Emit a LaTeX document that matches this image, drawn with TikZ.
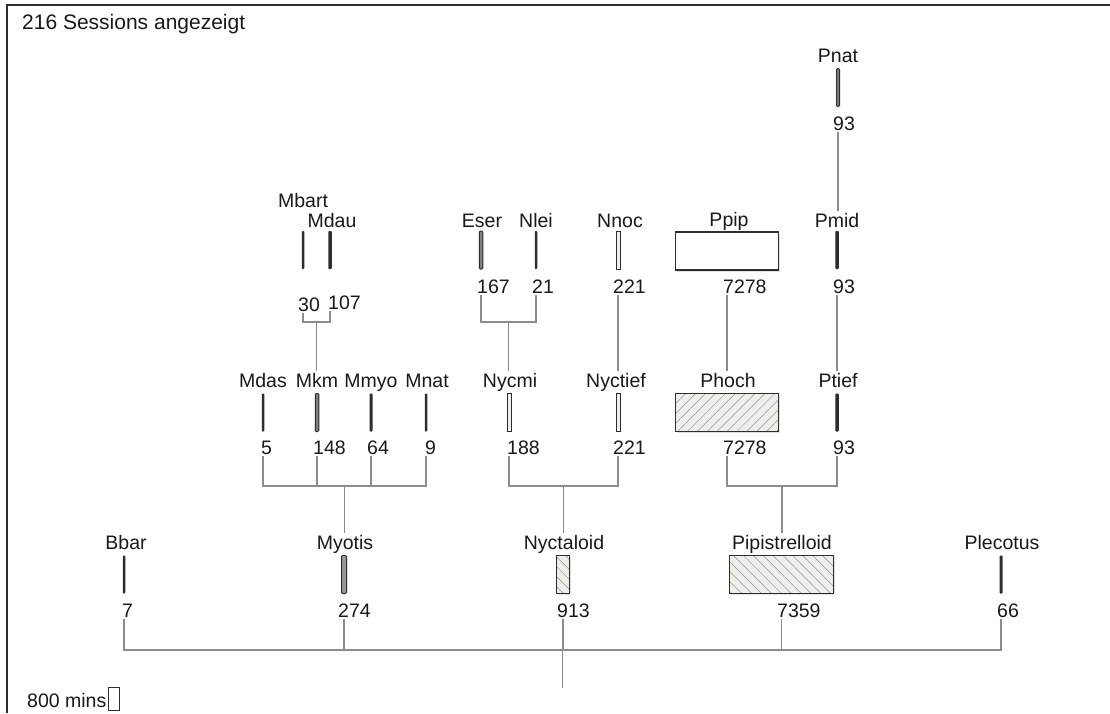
\documentclass[tikz,border=0pt]{standalone}
\usepackage{fontspec}
\setmainfont{Liberation Sans}
\usetikzlibrary{patterns.meta,shadows}
\definecolor{wirecol}{RGB}{140,140,140}
\definecolor{dark}{RGB}{45,45,45}
\definecolor{hatchbg}{RGB}{236,239,234}
\newcommand\labfont{\fontsize{19.5}{22}\selectfont}
\newcommand\headfont{\fontsize{21}{24}\selectfont}
\begin{document}
\begin{tikzpicture}[x=1pt,y=-1pt,
  lbl/.style={font=\labfont, anchor=base, inner sep=2pt, text=black!90},
  num/.style={font=\labfont, anchor=base west, inner xsep=0pt, inner ysep=2pt, text=black!90},
  bar/.style={rectangle, inner sep=0pt, minimum height=38pt},
  thinbar/.style={bar, fill=dark, minimum width=2.5pt, rounded corners=0.8pt},
  filledbar/.style={bar, fill=black!50, draw=dark, line width=1pt, minimum width=#1, rounded corners=1pt},
  hollowbar/.style={bar, fill=gray!12, draw=dark, line width=1pt, minimum width=#1},
  softshadow/.style={drop shadow={shadow xshift=1pt, shadow yshift=-1.5pt, opacity=0.22}},
  wbox/.style={bar, fill=white, draw=dark, line width=1.4pt, minimum width=#1, softshadow},
  hatchne/.style={bar, draw=dark, line width=1.4pt, minimum width=#1, softshadow,
    preaction={fill=hatchbg}, pattern={Lines[angle=45,distance=7pt,line width=0.5pt]}, pattern color=gray!85},
  hatchnw/.style={bar, draw=dark, line width=1.4pt, minimum width=#1, softshadow,
    preaction={fill=hatchbg}, pattern={Lines[angle=-45,distance=7pt,line width=0.5pt]}, pattern color=gray!85},
  wire/.style={draw=wirecol, line width=1.3pt}
]
\useasboundingbox (0,0) rectangle (1110,713);
\fill[white] (0,0) rectangle (1110,713);
\draw[dark, line width=1.5pt] (1110,5) -- (7,5) -- (7,713);

\node[font=\headfont, anchor=base west, inner sep=0pt, text=black!90] (head) at (22,29) {216 Sessions angezeigt};

% ---------- Row A
\node[lbl] (pnatL) at (838,62) {Pnat};
\node[filledbar=3pt] (pnatB) at (838,87.5) {};
\node[num] (pnatN) at (833,130) {93};

% ---------- Row B
\node[lbl] (mbartL) at (303,207) {Mbart};
\node[thinbar] (mbartB) at (303,250) {};
\node[num] (mbartN) at (298,311) {30};
\node[lbl] (mdauL) at (332,227) {Mdau};
\node[thinbar, minimum width=3.5pt] (mdauB) at (330,250) {};
\node[num] (mdauN) at (328,309) {107};
\node[lbl] (eserL) at (482,227) {Eser};
\node[filledbar=3.5pt] (eserB) at (481,250) {};
\node[num] (eserN) at (477,293) {167};
\node[lbl] (nleiL) at (536,227) {Nlei};
\node[thinbar] (nleiB) at (536,250) {};
\node[num] (nleiN) at (532,293) {21};
\node[lbl] (nnocL) at (620,227) {Nnoc};
\node[hollowbar=4pt] (nnocB) at (618,250) {};
\node[num] (nnocN) at (613,293) {221};
\node[lbl] (ppipL) at (729,226) {Ppip};
\node[wbox=103pt] (ppipB) at (727,251) {};
\node[num] (ppipN) at (723,293) {7278};
\node[lbl] (pmidL) at (837,227) {Pmid};
\node[thinbar, minimum width=3.5pt] (pmidB) at (837,250) {};
\node[num] (pmidN) at (833,293) {93};

% ---------- Row C
\node[lbl] (mdasL) at (263,387) {Mdas};
\node[thinbar] (mdasB) at (263,412.5) {};
\node[num] (mdasN) at (261,454) {5};
\node[lbl] (mkmL) at (317,387) {Mkm};
\node[filledbar=3.5pt] (mkmB) at (317,412.5) {};
\node[num] (mkmN) at (313,454) {148};
\node[lbl] (mmyoL) at (371,387) {Mmyo};
\node[thinbar, minimum width=3pt] (mmyoB) at (371,412.5) {};
\node[num] (mmyoN) at (367,454) {64};
\node[lbl] (mnatL) at (427,387) {Mnat};
\node[thinbar] (mnatB) at (426,412.5) {};
\node[num] (mnatN) at (425,454) {9};
\node[lbl] (nycmiL) at (510,387) {Nycmi};
\node[hollowbar=4pt] (nycmiB) at (509,412.5) {};
\node[num] (nycmiN) at (507,454) {188};
\node[lbl] (nyctiefL) at (616,387) {Nyctief};
\node[hollowbar=4pt] (nyctiefB) at (618,412.5) {};
\node[num] (nyctiefN) at (613,454) {221};
\node[lbl] (phochL) at (728,387) {Phoch};
\node[hatchne=103pt] (phochB) at (727,412.5) {};
\node[num] (phochN) at (723,454) {7278};
\node[lbl] (ptiefL) at (838,387) {Ptief};
\node[thinbar, minimum width=3.5pt] (ptiefB) at (837,412.5) {};
\node[num] (ptiefN) at (833,454) {93};

% ---------- Bottom row
\node[lbl] (bbarL) at (126,549) {Bbar};
\node[thinbar] (bbarB) at (124,574.5) {};
\node[num] (bbarN) at (122,617) {7};
\node[lbl] (myotisL) at (345,549) {Myotis};
\node[filledbar=5pt, fill=black!40] (myotisB) at (344,574.5) {};
\node[num] (myotisN) at (338,617) {274};
\node[lbl] (nyctaloidL) at (564,549) {Nyctaloid};
\node[hatchnw=13pt] (nyctaloidB) at (563,574.5) {};
\node[num] (nyctaloidN) at (557,617) {913};
\node[lbl] (pipL) at (782,549) {Pipistrelloid};
\node[hatchnw=104pt] (pipB) at (781.5,574.5) {};
\node[num] (pipN) at (777,617) {7359};
\node[lbl] (plecL) at (1002,549) {Plecotus};
\node[thinbar, minimum width=3pt] (plecB) at (1001,574.5) {};
\node[num] (plecN) at (997,617) {66};

% ---------- connectors
\draw[wire] (pnatN.south -| pnatB.center) -- (pmidL.north -| pnatB.center);
\draw[wire] (pmidN.south -| pmidB.center) -- (ptiefL.north -| pmidB.center);
\draw[wire] (ppipN.south -| ppipB.center) -- (phochL.north -| ppipB.center);
\draw[wire] (nnocN.south -| nnocB.center) -- (nyctiefL.north -| nnocB.center);

\coordinate (j1) at (316.5,322);
\draw[wire] (mbartN.south -| mbartB.center) -- (mbartB.center |- j1) -- (mdauB.center |- j1) -- (mdauN.south -| mdauB.center);
\draw[wire] (j1) -- (mkmL.north -| j1);

\coordinate (j2) at (508.5,322);
\draw[wire] (eserN.south -| eserB.center) -- (eserB.center |- j2) -- (nleiB.center |- j2) -- (nleiN.south -| nleiB.center);
\draw[wire] (j2) -- (nycmiL.north -| j2);

\coordinate (j3) at (344.5,486);
\draw[wire] (mdasN.south -| mdasB.center) -- (mdasB.center |- j3) -- (mnatB.center |- j3) -- (mnatN.south -| mnatB.center);
\draw[wire] (mkmN.south -| mkmB.center) -- (mkmB.center |- j3);
\draw[wire] (mmyoN.south -| mmyoB.center) -- (mmyoB.center |- j3);
\draw[wire] (j3) -- (myotisL.north -| j3);

\coordinate (j4) at (563.5,486);
\draw[wire] (nycmiN.south -| nycmiB.center) -- (nycmiB.center |- j4) -- (nyctiefB.center |- j4) -- (nyctiefN.south -| nyctiefB.center);
\draw[wire] (j4) -- (nyctaloidL.north -| j4);

\coordinate (j5) at (782,486);
\draw[wire] (phochN.south -| phochB.center) -- (phochB.center |- j5) -- (ptiefB.center |- j5) -- (ptiefN.south -| ptiefB.center);
\draw[wire] (j5) -- (pipL.north -| j5);

\coordinate (j6) at (562.5,650);
\coordinate (rootend) at (562.5,688);
\draw[wire] (bbarN.south -| bbarB.center) -- (bbarB.center |- j6) -- (plecB.center |- j6) -- (plecN.south -| plecB.center);
\draw[wire] (myotisN.south -| myotisB.center) -- (myotisB.center |- j6);
\draw[wire] (nyctaloidN.south -| nyctaloidB.center) -- (nyctaloidB.center |- j6);
\draw[wire] (pipN.south -| pipB.center) -- (pipB.center |- j6);
\draw[wire] (j6) -- (rootend);

% ---------- scale
\node[font=\labfont, anchor=base west, inner sep=0pt, text=black!90] (scaleT) at (27,707) {800 mins};
\node[draw=dark, line width=1pt, fill=white, inner sep=0pt, minimum width=11pt, minimum height=23pt] (scaleB) at (114,699) {};
\end{tikzpicture}
\end{document}
